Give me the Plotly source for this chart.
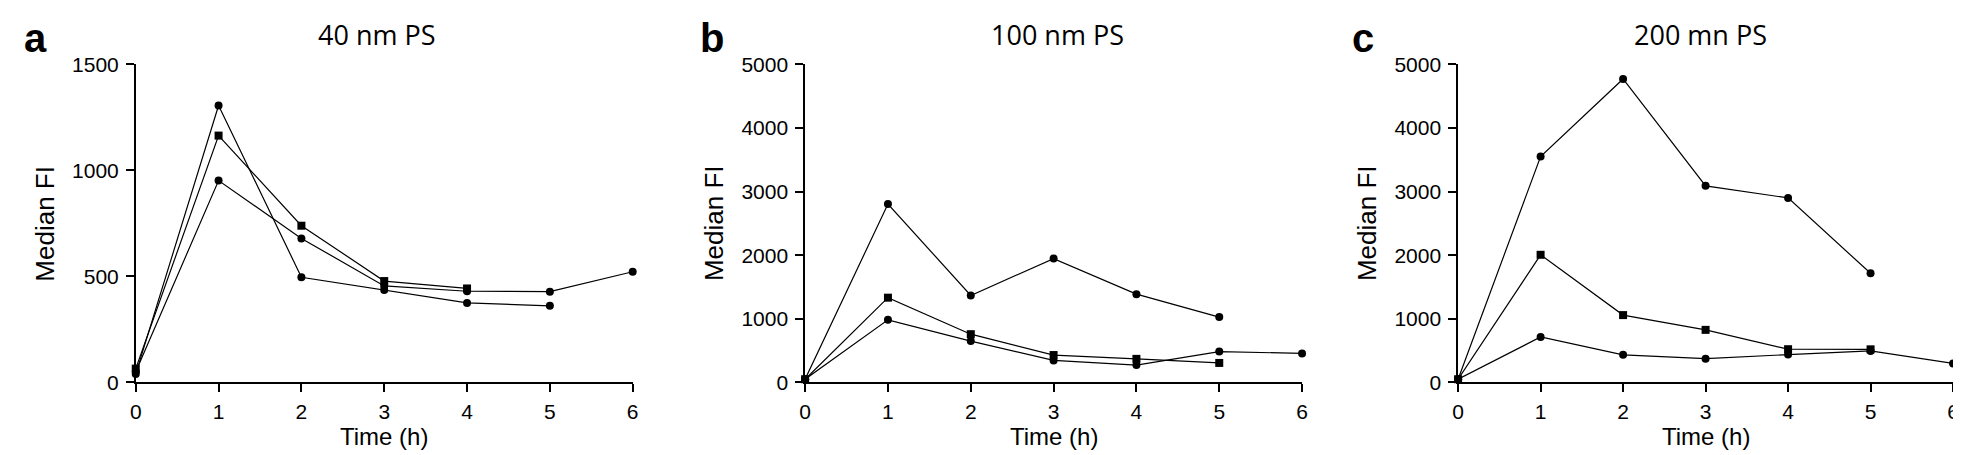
import plotly.graph_objects as go

# ---------------- data ----------------
time_h = [0, 1, 2, 3, 4, 5, 6]

# Panel a: 40 nm PS
a_s1 = [40, 1306, 496, 436, 375, 361]
a_s2 = [65, 1164, 739, 478, 443]
a_s3 = [50, 952, 679, 455, 430, 428, 522]

# Panel b: 100 nm PS
b_s1 = [50, 2804, 1367, 1946, 1387, 1027]
b_s2 = [50, 1332, 758, 430, 370, 306]
b_s3 = [50, 983, 649, 346, 272, 485, 455]

# Panel c: 200 mn PS
c_s1 = [50, 3550, 4770, 3090, 2900, 1715]
c_s2 = [50, 2006, 1058, 826, 522, 520]
c_s3 = [50, 714, 434, 373, 437, 495, 299]

panel_titles = ["40 nm PS", "100 nm PS", "200 mn PS"]
panel_letters = ["a", "b", "c"]
y_max = [1500, 5000, 5000]
y_dtick = [500, 1000, 1000]
x_title = "Time (h)"
y_title = "Median FI"

panels = [
    [a_s1, a_s2, a_s3],
    [b_s1, b_s2, b_s3],
    [c_s1, c_s2, c_s3],
]
markers = ["circle", "square", "circle"]

# ---------------- layout geometry (pixels) ----------------
W, H = 1961, 455
x_px = [(122.5, 622.5), (796, 1296), (1453, 1951)]
y_top, y_bot = 46.7, 381.7

fig = go.Figure()
tick_font = dict(family="Liberation Sans, Arial", size=21, color="black")

for i, series in enumerate(panels):
    xa = "x" if i == 0 else f"x{i+1}"
    ya = "y" if i == 0 else f"y{i+1}"
    for j, s in enumerate(series):
        fig.add_trace(go.Scatter(
            x=time_h[:len(s)], y=s, mode="lines+markers",
            line=dict(color="black", width=1.2),
            marker=dict(symbol=markers[j], size=8, color="black"),
            xaxis=xa, yaxis=ya, showlegend=False, cliponaxis=False,
        ))
    x0, x1 = x_px[i]
    axis_common = dict(
        showline=True, linecolor="black", linewidth=1.6,
        ticks="outside", ticklen=8, tickwidth=1.6, tickcolor="black",
        showgrid=False, zeroline=False, tickfont=tick_font,
        ticklabeloverflow="allow",
    )
    fig.layout[f"xaxis{'' if i == 0 else i+1}"] = dict(
        domain=[x0 / W, x1 / W], range=[0, 6], dtick=1, tick0=0,
        anchor=ya, ticklabelstandoff=2, **axis_common)
    fig.layout[f"yaxis{'' if i == 0 else i+1}"] = dict(
        domain=[(H - y_bot) / H, (H - y_top) / H], range=[0, y_max[i]],
        dtick=y_dtick[i], tick0=0, anchor=xa, ticklabelstandoff=3, **axis_common)

annotations = []
title_cx = [365, 1050, 1697]
letter_x = [8, 688, 1344]
for i in range(3):
    x0, x1 = x_px[i]
    cx = (x0 + x1) / 2
    annotations.append(dict(
        text=panel_titles[i], x=title_cx[i] / W, y=1 - 15 / H,
        xref="paper", yref="paper", xanchor="center", yanchor="middle",
        showarrow=False, font=dict(family="Open Sans", size=27, color="black")))
    annotations.append(dict(
        text=f"<b>{panel_letters[i]}</b>", x=letter_x[i] / W, y=1 - 19 / H,
        xref="paper", yref="paper", xanchor="left", yanchor="middle",
        showarrow=False, font=dict(family="Liberation Sans, Arial", size=40, color="black")))
    annotations.append(dict(
        text=x_title, x=cx / W, y=1 - 439 / H,
        xref="paper", yref="paper", xanchor="center", yanchor="middle",
        showarrow=False, font=dict(family="Liberation Sans, Arial", size=24, color="black")))
    annotations.append(dict(
        text=y_title, x=(x0 - 91) / W, y=1 - ((y_top + y_bot) / 2) / H,
        xref="paper", yref="paper", xanchor="center", yanchor="middle",
        textangle=-90,
        showarrow=False, font=dict(family="Liberation Sans, Arial", size=26, color="black")))

fig.update_layout(
    width=W, height=H,
    margin=dict(l=0, r=0, t=0, b=0),
    paper_bgcolor="white", plot_bgcolor="white",
    annotations=annotations,
)

fig.write_html("out.html")
